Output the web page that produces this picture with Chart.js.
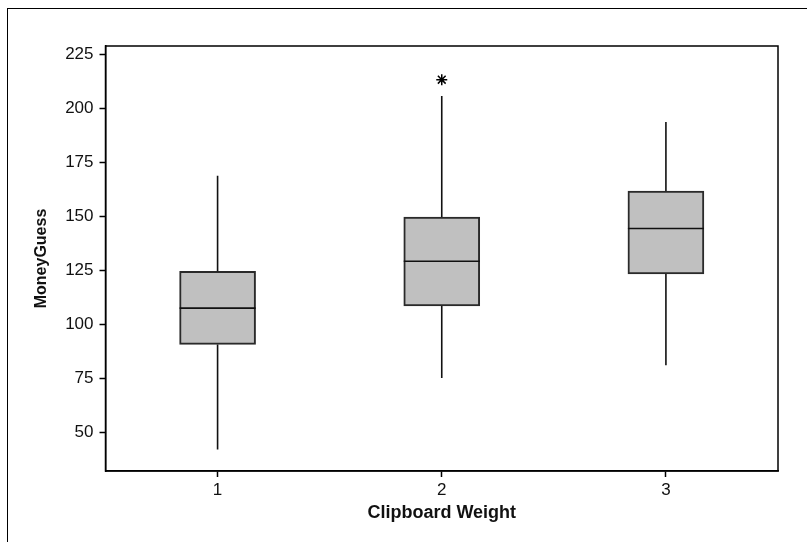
<!DOCTYPE html>
<html>
<head>
<meta charset="utf-8">
<script src="https://cdn.jsdelivr.net/npm/chart.js@4.4.1/dist/chart.umd.min.js"></script>
<style>
    body { margin: 0; background: #fff; overflow: hidden; }
    #wrap { position: relative; width: 807px; height: 542px; }
    #frame { position: absolute; left: 7px; top: 8px; width: 900px; height: 700px; border-top: 1.5px solid #000; border-left: 1.5px solid #000; }
    canvas { position: absolute; left: 0; top: 0; }
</style>
</head>
<body>
<div id="wrap">
    <div id="frame"></div>
    <canvas id="chart" width="807" height="542"></canvas>
</div>
<script>
const categories = [1, 2, 3];
const mins = [42.2, 75.4, 81.2];
const q1s = [90.9, 108.7, 123.5];
const medians = [107.7, 129.4, 144.5];
const q3s = [124.7, 149.8, 161.9];
const maxs = [168.9, 205.9, 193.8];
const outlierX = [2];
const outlierY = [213.4];
const yTicks = [50, 75, 100, 125, 150, 175, 200, 225];

document.addEventListener('DOMContentLoaded', function() {
    initBoxChart()
});

function initBoxChart() {
    // whiskers, medians and the plot frame drawn through the chart's scales
    const boxPlugin = {
        id: 'boxParts',
        afterDatasetsDraw(chart) {
            const ctx = chart.ctx;
            const x = chart.scales.x;
            const y = chart.scales.y;
            const meta = chart.getDatasetMeta(0);
            ctx.save();
            ctx.strokeStyle = '#111';
            ctx.lineWidth = 1.6;
            categories.forEach(function(c, i) {
                const px = x.getPixelForValue(c);
                ctx.beginPath();
                ctx.moveTo(px, y.getPixelForValue(q3s[i]));
                ctx.lineTo(px, y.getPixelForValue(maxs[i]));
                ctx.moveTo(px, y.getPixelForValue(q1s[i]));
                ctx.lineTo(px, y.getPixelForValue(mins[i]));
                const bar = meta.data[i];
                const half = bar.width / 2;
                const my = y.getPixelForValue(medians[i]);
                ctx.moveTo(bar.x - half, my);
                ctx.lineTo(bar.x + half, my);
                ctx.stroke();
            });
            const a = chart.chartArea;
            ctx.strokeStyle = '#000';
            ctx.lineWidth = 1.5;
            ctx.strokeRect(a.left, a.top, a.right - a.left, a.bottom - a.top);
            ctx.restore();
        }
    };

    let data = {
        datasets: [{
            type: 'bar',
            backgroundColor: '#c0c0c0',
            borderColor: '#2a2a2a',
            borderWidth: 2,
            borderSkipped: false,
            barThickness: 76,
            data: categories.map((c, i) => ({ x: c, y: [q1s[i], q3s[i]] }))
        }, {
            type: 'scatter',
            pointStyle: 'star',
            radius: 5.5,
            borderColor: '#000',
            borderWidth: 1.5,
            data: outlierX.map((c, i) => ({ x: c, y: outlierY[i] }))
        }]
    };

    let options = {
        responsive: false,
        animation: false,
        layout: {
            padding: { left: 0, top: 46, right: 29, bottom: 0 }
        },
        plugins: {
            legend: { display: false },
            tooltip: { enabled: false }
        },
        scales: {
            x: {
                type: 'linear',
                min: 0.5,
                max: 3.5,
                offset: false,
                afterFit: function(scale) { scale.height = 71 },
                afterBuildTicks: function(scale) { scale.ticks = categories.map(v => ({ value: v })) },
                grid: {
                    offset: false,
                    drawOnChartArea: false,
                    drawTicks: true,
                    tickLength: 6,
                    tickWidth: 1.5,
                    tickColor: '#000'
                },
                border: { display: true, color: '#000', width: 1.5 },
                ticks: {
                    color: '#111',
                    padding: 3,
                    font: { size: 17, family: 'Liberation Sans, Arial' }
                },
                title: {
                    display: true,
                    text: 'Clipboard Weight',
                    color: '#111',
                    padding: { top: 0, bottom: 18 },
                    font: { size: 18, weight: 'bold', family: 'Liberation Sans, Arial' }
                }
            },
            y: {
                min: 32.3,
                max: 229,
                afterFit: function(scale) { scale.width = 105.5 },
                afterBuildTicks: function(scale) { scale.ticks = yTicks.map(v => ({ value: v })) },
                grid: {
                    drawOnChartArea: false,
                    drawTicks: true,
                    tickLength: 6,
                    tickWidth: 1.5,
                    tickColor: '#000'
                },
                border: { display: true, color: '#000', width: 1.5 },
                ticks: {
                    color: '#111',
                    padding: 6,
                    font: { size: 17, family: 'Liberation Sans, Arial' }
                },
                title: {
                    display: true,
                    text: 'MoneyGuess',
                    color: '#111',
                    padding: { top: 32, bottom: 0 },
                    font: { size: 16, weight: 'bold', family: 'Liberation Sans, Arial' }
                }
            }
        }
    };

    let ctx = document.getElementById('chart').getContext('2d');
    const chart = new Chart(ctx, {
        type: 'bar',
        options: options,
        data: data,
        plugins: [boxPlugin]
    });
}
</script>
</body>
</html>
